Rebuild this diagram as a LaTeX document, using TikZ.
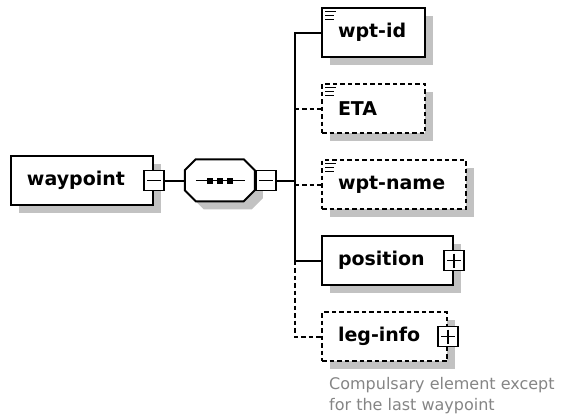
\documentclass[tikz,border=0pt]{standalone}
\usepackage{fontspec}
\setmainfont{DejaVu Sans}
\usetikzlibrary{shapes,shadows}
\usetikzlibrary{positioning}

\tikzset{
  elem/.style={draw,fill=white,line width=2pt,align=left,inner xsep=16pt,inner ysep=0pt,minimum height=49pt,
    font=\fontsize{19}{22}\selectfont\bfseries,
    drop shadow={shadow xshift=7.5pt,shadow yshift=-7.5pt,fill=black!24,opacity=1}},
  opt/.style={dash pattern=on 4.5pt off 3pt},
  conn/.style={line width=2pt},
  toggle/.style={draw,fill=white,line width=1.5pt,minimum width=20pt,minimum height=20pt,inner sep=0pt},
  minus/.style={toggle,path picture={
    \draw[line width=1.4pt] ([xshift=3pt]path picture bounding box.west) -- ([xshift=-3pt]path picture bounding box.east);}},
  plus/.style={toggle,path picture={
    \draw[line width=1.4pt] ([xshift=3pt]path picture bounding box.west) -- ([xshift=-3pt]path picture bounding box.east);
    \draw[line width=1.4pt] ([yshift=-3pt]path picture bounding box.north) -- ([yshift=3pt]path picture bounding box.south);}},
  seqbox/.style={minimum width=70pt,minimum height=42pt,inner sep=0pt},
  note/.style={align=left,inner sep=0pt,text=black!48,font=\fontsize{16}{21}\selectfont}
}

\begin{document}
\begin{tikzpicture}[x=1pt,y=-1pt]
    \useasboundingbox (0,0) rectangle (563,413);

    \node[elem,text width=110pt,anchor=west] (waypoint) at (10,180.5) {waypoint};
    \node[minus] (wpmin) at (waypoint.east) {};
    \node[seqbox, right =20pt of wpmin] (seq) {};

    % sequence octagon with its shadow
    \fill[black!24] ([xshift=8pt,yshift=-8pt]seq.north west) ++(11pt,0) -- ++(48pt,0) -- ++(11pt,-11pt) -- ++(0,-20pt)
        -- ++(-11pt,-11pt) -- ++(-48pt,0) -- ++(-11pt,11pt) -- ++(0,20pt) -- cycle;
    \draw[line width=2pt,fill=white] (seq.north west) ++(11pt,0) -- ++(48pt,0) -- ++(11pt,-11pt) -- ++(0,-20pt)
        -- ++(-11pt,-11pt) -- ++(-48pt,0) -- ++(-11pt,11pt) -- ++(0,20pt) -- cycle;
    \draw[line width=1.4pt] ([xshift=-24pt]seq.center) -- ([xshift=25pt]seq.center);
    \foreach \dx in {-10,0,10}
        \fill ([xshift=\dx pt]seq.center) +(-3pt,-3pt) rectangle +(3pt,3pt);
    \node[minus, right =0pt of seq] (seqmin) {};
    \coordinate[right =18pt of seqmin] (trunk);

    \node[elem,text width=71pt,anchor=west] (wptid) at (321,32.5) {wpt-id};
    \node[elem,opt,text width=71pt, below =25pt of wptid.south west,anchor=north west] (eta) {ETA};
    \node[elem,opt,text width=112pt, below =25pt of eta.south west,anchor=north west] (wptname) {wpt-name};
    \node[elem,text width=99pt, below =25pt of wptname.south west,anchor=north west] (position) {position};
    \node[plus] (posplus) at (position.east) {};
    \node[elem,opt,text width=93pt, below =25pt of position.south west,anchor=north west] (leginfo) {leg-info};
    \node[plus] (legplus) at (leginfo.east) {};
    \node[note, below right =15pt and 8pt of leginfo.south west] (legnote) {Compulsary element except\\for the last waypoint};

    % simple type marks
    \foreach \n in {wptid,eta,wptname} {
        \draw[line width=1pt] ([xshift=4pt,yshift=-4.5pt]\n.north west) -- ++(11pt,0);
        \draw[line width=1pt] ([xshift=4pt,yshift=-8.5pt]\n.north west) -- ++(9pt,0);
        \draw[line width=1pt] ([xshift=4pt,yshift=-12.5pt]\n.north west) -- ++(9pt,0);
    }

    \draw[conn] (wpmin) -- (seq);
    \draw[conn] (seqmin) -- (trunk);
    \draw[conn] (wptid.west) -| (trunk |- position.west) -- (position.west);
    \draw[conn,opt] (trunk |- position.west) |- (leginfo.west);
    \draw[conn,opt] (trunk |- eta.west) -- (eta.west);
    \draw[conn,opt] (trunk |- wptname.west) -- (wptname.west);

\end{tikzpicture}
\end{document}
